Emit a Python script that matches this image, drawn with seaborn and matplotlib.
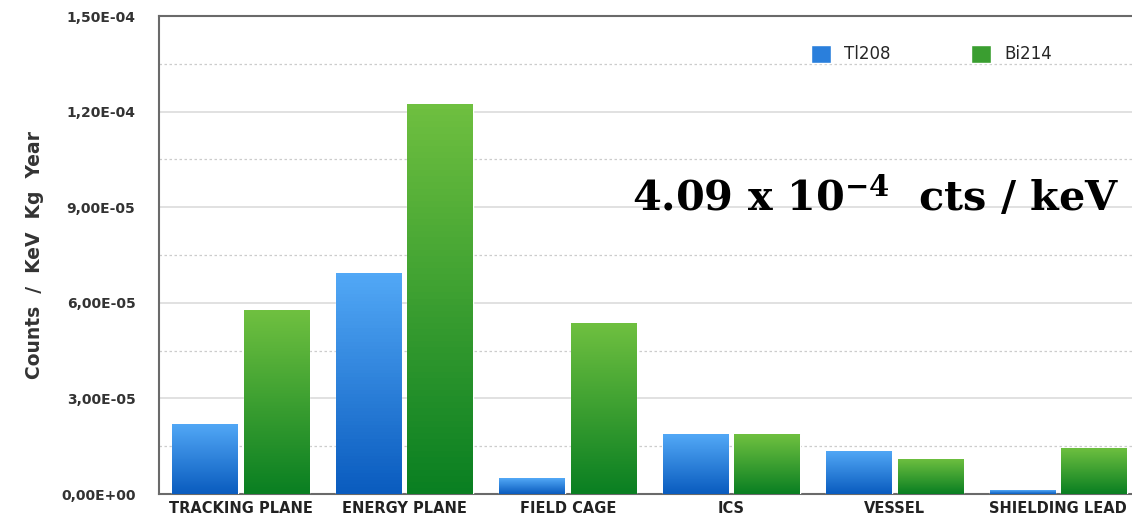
import numpy as np
import pandas as pd
import matplotlib
matplotlib.use("Agg")
import matplotlib.pyplot as plt
import matplotlib.colors as mcolors
from matplotlib.ticker import FixedLocator, FuncFormatter
import seaborn as sns

categories = ["TRACKING PLANE", "ENERGY PLANE", "FIELD CAGE", "ICS", "VESSEL", "SHIELDING LEAD"]
tl208 = [2.20e-5, 6.93e-5, 0.50e-5, 1.87e-5, 1.36e-5, 0.12e-5]
bi214 = [5.77e-5, 12.24e-5, 5.37e-5, 1.87e-5, 1.11e-5, 1.45e-5]
series = ["Tl208", "Bi214"]
yticks = [0.0, 3e-5, 6e-5, 9e-5, 1.2e-4, 1.5e-4]
minor_grid = [1.5e-5, 4.5e-5, 7.5e-5, 1.05e-4, 1.35e-4]

df = pd.DataFrame({
    "category": categories * 2,
    "series": [series[0]] * len(categories) + [series[1]] * len(categories),
    "value": tl208 + bi214,
})

sns.set_theme(style="white")
plt.rcParams["font.family"] = ["DejaVu Sans"]
plt.rcParams["mathtext.fontset"] = "dejavuserif"

fig = plt.figure(figsize=(11.32, 5.23), dpi=100)
ax = fig.add_axes([159 / 1132, 29 / 523, 981 / 1132, 478 / 523])

palette = {"Tl208": "#2a7fdc", "Bi214": "#3a9e30"}
sns.barplot(data=df, x="category", y="value", hue="series", order=categories,
            hue_order=series, palette=palette, width=0.88, gap=0.09,
            saturation=1, ax=ax, zorder=3, legend=True)

grads = {"Tl208": ("#52a8f6", "#0a5cbf"), "Bi214": ("#6fc040", "#0a7f22")}
bars = [p for p in ax.patches if p.get_height() > 0]
for i, p in enumerate(bars):
    key = series[0] if i < len(categories) else series[1]
    top, bot = grads[key]
    cmap = mcolors.LinearSegmentedColormap.from_list("g", [bot, top])
    x0, w, h = p.get_x(), p.get_width(), p.get_height()
    img = ax.imshow(np.linspace(0, 1, 64).reshape(-1, 1), cmap=cmap, origin="lower",
                    extent=[x0, x0 + w, 0, h], aspect="auto", zorder=4)
    img.set_clip_path(p)

ax.set_xlim(-0.5, len(categories) - 0.5)
ax.set_ylim(0, 1.5e-4)
ax.yaxis.set_major_locator(FixedLocator(yticks))
ax.yaxis.set_major_formatter(FuncFormatter(lambda v, pos: ("%.2E" % v).replace(".", ",")))
for v in yticks[1:-1]:
    ax.axhline(v, color="#dcdcdc", lw=1.2, zorder=1)
for v in minor_grid:
    ax.axhline(v, color="#cccccc", lw=0.9, ls=(0, (2, 2)), zorder=1)

for s in ["left", "top", "bottom", "right"]:
    ax.spines[s].set_color("#6a6a6a")
    ax.spines[s].set_linewidth(1.5)

ax.tick_params(axis="y", labelsize=10, colors="#333333", length=0, pad=17)
ax.tick_params(axis="x", labelsize=10.5, colors="#222222", length=0, pad=5)
for t in ax.get_yticklabels():
    t.set_fontweight("bold")
for t in ax.get_xticklabels():
    t.set_fontweight("bold")
ax.set_xlabel("")
ax.set_ylabel("Counts  /  KeV  Kg  Year", fontsize=13.5, fontweight="bold", color="#333333",
              labelpad=12)

handles, labels = ax.get_legend_handles_labels()
leg = ax.legend(handles, labels, loc="center left", bbox_to_anchor=(0.703, 0.897),
                bbox_transform=fig.transFigure, ncol=2, frameon=False, fontsize=12,
                handlelength=1.2, handleheight=1.3, columnspacing=4.8, handletextpad=0.8)
for h, k in zip(leg.legend_handles, series):
    h.set_facecolor(palette[k])

fig.text(632 / 1132, 1 - 212 / 523, r"4.09 x 10$^{\mathbf{-4}}$  cts / keV",
         fontsize=29.8, fontweight="bold", family="DejaVu Serif",
         color="black", ha="left", va="baseline")

fig.savefig("out.png", dpi=100)
